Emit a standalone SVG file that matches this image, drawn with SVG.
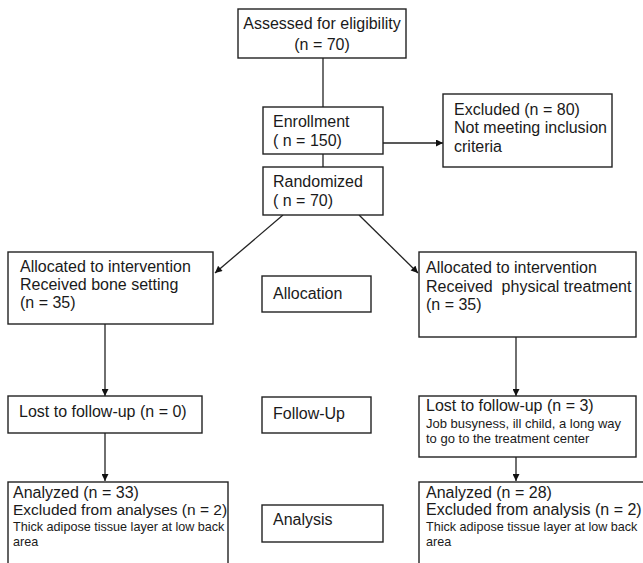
<svg xmlns="http://www.w3.org/2000/svg" width="643" height="563" viewBox="0 0 643 563">
<defs>
<style>
.box{fill:#fff;stroke:#222;stroke-width:1.4}
.t{font-family:"Liberation Sans",Arial,sans-serif;font-size:16px;fill:#1a1a1a}
.m{font-size:15.5px}
.s{font-size:13px}
.xs{font-size:12.6px}
.c{fill:none;stroke:#222;stroke-width:1.3}
</style>
<marker id="ah" viewBox="0 0 10 10" refX="10" refY="5" markerWidth="8" markerHeight="7" markerUnits="userSpaceOnUse" orient="auto"><path d="M0,0 L10,5 L0,10 z" fill="#111"/></marker>
</defs>
<rect width="643" height="563" fill="#fff"/>
<g id="connectors">
<line class="c" x1="323" y1="58" x2="323" y2="107"/>
<line class="c" x1="323" y1="154" x2="323" y2="167"/>
<line class="c" x1="383" y1="143" x2="443" y2="143" marker-end="url(#ah)"/>
<line class="c" x1="283" y1="215" x2="215" y2="273" marker-end="url(#ah)"/>
<line class="c" x1="359" y1="215" x2="418" y2="273" marker-end="url(#ah)"/>
<line class="c" x1="105" y1="324" x2="105" y2="396" marker-end="url(#ah)"/>
<line class="c" x1="516" y1="337" x2="516" y2="396" marker-end="url(#ah)"/>
<line class="c" x1="105" y1="433" x2="105" y2="481" marker-end="url(#ah)"/>
<line class="c" x1="516" y1="457" x2="516" y2="481" marker-end="url(#ah)"/>
</g>
<g id="assessed">
<rect class="box" x="238" y="9" width="168" height="49"/>
<text class="t" x="322" y="29" text-anchor="middle">Assessed for eligibility</text>
<text class="t" x="322" y="50" text-anchor="middle">(n = 70)</text>
</g>
<g id="enrollment">
<rect class="box" x="263" y="107" width="120" height="47"/>
<text class="t" x="273" y="127">Enrollment</text>
<text class="t" x="273" y="146">( n = 150)</text>
</g>
<g id="excluded">
<rect class="box" x="443" y="94" width="169" height="73"/>
<text class="t" x="454" y="115">Excluded (n = 80)</text>
<text class="t" x="454" y="133">Not meeting inclusion</text>
<text class="t" x="454" y="152">criteria</text>
</g>
<g id="randomized">
<rect class="box" x="263" y="167" width="120" height="48"/>
<text class="t" x="273" y="187">Randomized</text>
<text class="t" x="273" y="206">( n = 70)</text>
</g>
<g id="alloc-left">
<rect class="box" x="8" y="252" width="205" height="72"/>
<text class="t" x="20" y="272">Allocated to intervention</text>
<text class="t" x="20" y="290">Received bone setting</text>
<text class="t" x="20" y="308">(n = 35)</text>
</g>
<g id="allocation">
<rect class="box" x="262" y="276" width="109" height="36"/>
<text class="t" x="273" y="299">Allocation</text>
</g>
<g id="alloc-right">
<rect class="box" x="419" y="252" width="217" height="85"/>
<text class="t" x="426" y="273">Allocated to intervention</text>
<text class="t" x="426" y="292" xml:space="preserve">Received  physical treatment</text>
<text class="t" x="426" y="310">(n = 35)</text>
</g>
<g id="lost-left">
<rect class="box" x="8" y="396" width="194" height="37"/>
<text class="t" x="19" y="417">Lost to follow-up (n = 0)</text>
</g>
<g id="followup">
<rect class="box" x="262" y="397" width="109" height="36"/>
<text class="t" x="273" y="419">Follow-Up</text>
</g>
<g id="lost-right">
<rect class="box" x="419" y="396" width="217" height="61"/>
<text class="t" x="426" y="411">Lost to follow-up (n = 3)</text>
<text class="t s" x="426" y="428">Job busyness, ill child, a long way</text>
<text class="t s" x="426" y="443">to go to the treatment center</text>
</g>
<g id="analyzed-left">
<rect class="box" x="8" y="482" width="220" height="90"/>
<text class="t" x="13" y="498">Analyzed (n = 33)</text>
<text class="t m" x="13" y="515">Excluded from analyses (n = 2)</text>
<text class="t xs" x="13" y="531">Thick adipose tissue layer at low back</text>
<text class="t xs" x="13" y="546">area</text>
</g>
<g id="analysis">
<rect class="box" x="262" y="505" width="121" height="37"/>
<text class="t" x="273" y="525">Analysis</text>
</g>
<g id="analyzed-right">
<rect class="box" x="419" y="482" width="230" height="90"/>
<text class="t" x="426" y="498">Analyzed (n = 28)</text>
<text class="t" x="426" y="515">Excluded from analysis (n = 2)</text>
<text class="t xs" x="426" y="531">Thick adipose tissue layer at low back</text>
<text class="t xs" x="426" y="546">area</text>
</g>
</svg>
